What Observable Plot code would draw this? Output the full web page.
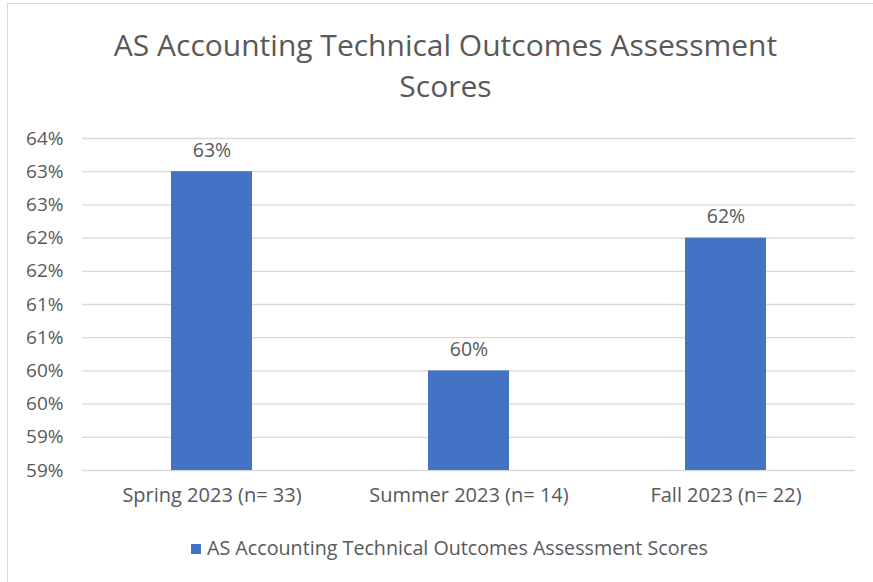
<!DOCTYPE html>
<html>
<head>
<meta charset="utf-8">
<script src="https://cdn.jsdelivr.net/npm/d3@7"></script>
<script src="https://cdn.jsdelivr.net/npm/@observablehq/plot@0.6"></script>
<style>
  html, body { margin: 0; padding: 0; background: #fff; }
  #wrap { position: relative; width: 873px; height: 582px; overflow: hidden; font-family: "Open Sans", sans-serif; }
  #frame { position: absolute; left: 7px; top: 3px; width: 880px; height: 600px; border: 1px solid #d9d9d9; box-sizing: border-box; }
  #title { position: absolute; left: 9px; width: 873px; top: 24px; text-align: center; color: #595959; font-size: 30px; line-height: 41px; }
  #chart { position: absolute; left: 0; top: 120px; }
  #legend { position: absolute; left: 13px; width: 873px; top: 534px; text-align: center; color: #595959; font-size: 19.7px; }
  #legend .sw { display: inline-block; width: 10px; height: 10px; background: #4472C4; margin-right: 6px; vertical-align: 1px; }
</style>
</head>
<body>
<div id="wrap">
  <div id="frame"></div>
  <div id="title">AS Accounting Technical Outcomes Assessment<br>Scores</div>
  <div id="chart"></div>
  <div id="legend"><span class="sw"></span>AS Accounting Technical Outcomes Assessment Scores</div>
</div>
<script>
const categories = ["Spring 2023 (n= 33)", "Summer 2023 (n= 14)", "Fall 2023 (n= 22)"];
const values = [0.635, 0.605, 0.625];
const valueLabels = ["63%", "60%", "62%"];
const yTicks = [0.59, 0.595, 0.60, 0.605, 0.61, 0.615, 0.62, 0.625, 0.63, 0.635, 0.64];
const yTickLabels = ["59%", "59%", "60%", "60%", "61%", "61%", "62%", "62%", "63%", "63%", "64%"];

const data = categories.map((c, i) => ({cat: c, value: values[i], label: valueLabels[i]}));

const chart = Plot.plot({
  width: 873,
  height: 400,
  marginTop: 18,
  marginBottom: 50,
  marginLeft: 82,
  marginRight: 18,
  style: {fontFamily: "Open Sans, sans-serif", fontSize: "19px", color: "#595959", background: "transparent"},
  x: {domain: categories, paddingInner: 0.686, paddingOuter: 0.343, label: null, tickSize: 0, tickPadding: 17},
  y: {domain: [0.59, 0.64], ticks: yTicks, label: null, tickSize: 0, tickPadding: 19,
      tickFormat: d => yTickLabels[yTicks.findIndex(t => Math.abs(t - d) < 1e-9)]},
  marks: [
    Plot.ruleY(yTicks, {stroke: "#d9d9d9", strokeWidth: 1.3, strokeOpacity: 1}),
    Plot.barY(data, {x: "cat", y1: () => 0.59, y2: "value", fill: "#4472C4"}),
    Plot.axisX({tickSize: 0, tickPadding: 17, fontSize: 20, label: null}),
    Plot.text(data, {x: "cat", y: "value", text: "label", dy: -21, fill: "#595959", fontSize: 19.5})
  ]
});
document.getElementById("chart").appendChild(chart);
</script>
</body>
</html>
